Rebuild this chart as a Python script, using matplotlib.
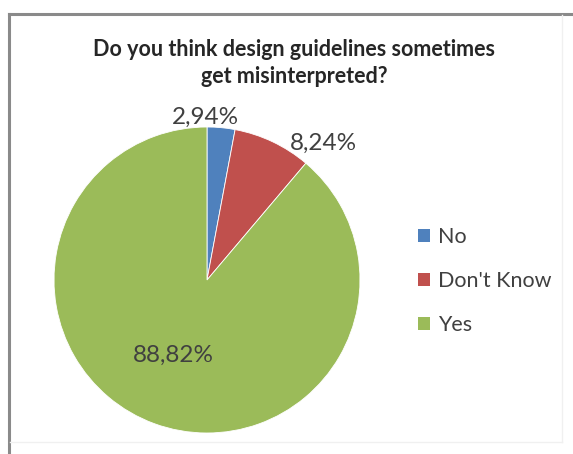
import matplotlib
matplotlib.use("Agg")
import matplotlib.pyplot as plt
from matplotlib.lines import Line2D
from matplotlib.patches import Patch
import numpy as np

plt.rcParams['font.family'] = ['Lato', 'DejaVu Sans']

# answers to the survey question, in the order they go round the pie
categories = ['No', "Don't Know", 'Yes']
shares = [2.94, 8.24, 88.82]
colors = ['#4F81BD', '#C0504D', '#9BBB59']
title = 'Do you think design guidelines sometimes\nget misinterpreted?'

W, H = 573, 454
fig = plt.figure(figsize=(W / 100, H / 100), dpi=100)


def fx(px):
    return px / W


def fy(py):
    return 1 - py / H


# chart frame: dark top/left edge, faint right/bottom edge
fig.add_artist(Line2D([fx(8.5), fx(8.5)], [fy(13.5), 0], color='#8a8a8a', lw=2.2))
fig.add_artist(Line2D([fx(8.5), 1], [fy(13.5), fy(13.5)], color='#8a8a8a', lw=2.2))
fig.add_artist(Line2D([fx(562), fx(562)], [fy(15), fy(442)], color='#f0f0f0', lw=1))
fig.add_artist(Line2D([fx(10), fx(562)], [fy(442), fy(442)], color='#f0f0f0', lw=1))

fig.text(fx(294), fy(63), title, ha='center', va='center', fontsize=15.5,
         fontweight='bold', color='#262626', linespacing=1.3)

# pie, centre at (207, 280) px, radius 153 px
cx, cy, r = 207, 280, 153
ax = fig.add_axes([fx(cx - r), fy(cy + r), 2 * r / W, 2 * r / H])
wedges, _ = ax.pie(shares, colors=colors, startangle=90, counterclock=False,
                   wedgeprops=dict(linewidth=0.6, edgecolor='white'))
ax.set_xlim(-1, 1)
ax.set_ylim(-1, 1)
ax.set_aspect('auto')

# value labels (radius, angle offset in degrees) from each wedge's middle
label_pos = [(1.06, 6), (1.17, -15), (0.54, -4)]
for w, v, (dist, dang) in zip(wedges, shares, label_pos):
    mid = np.deg2rad((w.theta1 + w.theta2) / 2 + dang)
    ax.text(dist * np.cos(mid), dist * np.sin(mid), f'{v:.2f}%'.replace('.', ','),
            ha='center', va='center', fontsize=17.5, color='#404040', clip_on=False)

handles = [Patch(facecolor=c, edgecolor='none') for c in colors]
fig.legend(handles, categories, loc='center left', bbox_to_anchor=(fx(399), fy(281)),
           frameon=False, fontsize=15.5, labelcolor='#404040', handlelength=0.55,
           handleheight=0.55, handletextpad=0.35, labelspacing=1.1)

fig.savefig('out.png', dpi=100, facecolor='white')
